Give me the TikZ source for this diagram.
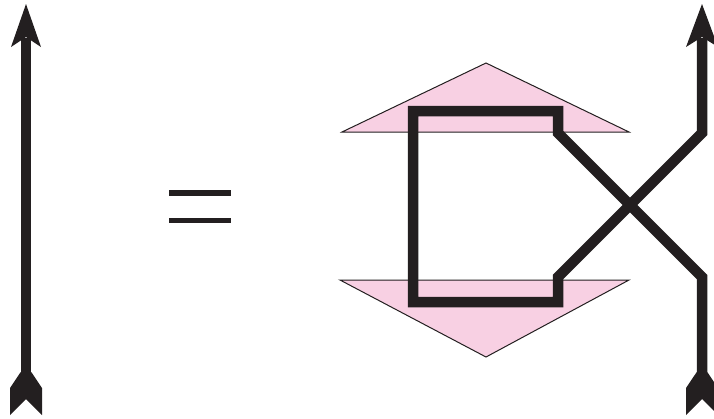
\documentclass[tikz,border=0pt]{standalone}
\definecolor{ink}{HTML}{231F20}
\definecolor{pinkfill}{HTML}{F8D0E3}
\begin{document}
\begin{tikzpicture}[x=1pt,y=-1pt,
  strand/.style={draw=ink,line width=10.5pt,line join=miter,line cap=butt},
  tri/.style={fill=pinkfill,draw=ink,line width=1pt,line join=miter},
  headfill/.style={fill=ink},
  eqbar/.style={draw=ink,line width=5.5pt}]
\useasboundingbox (0,0) rectangle (714,418);
% named points
\coordinate (Ltop) at (26,38);
\coordinate (Lbot) at (26,372);
\coordinate (Rtop) at (702,38);
\coordinate (Rbot) at (702,372);
\coordinate (Rup) at (702,133);
\coordinate (Rdn) at (702,277);
\coordinate (BoxTR) at (558,111);
\coordinate (BoxTL) at (413,111);
\coordinate (BoxBL) at (413,302);
\coordinate (BoxBR) at (558,302);
\coordinate (BoxRU) at (558,133);
\coordinate (BoxRD) at (558,277);
% triangles
\draw[tri] (486,63) -- (629,132) -- (342,132) -- cycle;
\draw[tri] (340,280) -- (629,280) -- (486,357) -- cycle;
% equals sign
\draw[eqbar] (169,193) -- (231,193);
\draw[eqbar] (169,220.5) -- (231,220.5);
% left strand
\draw[strand] (Ltop) -- (Lbot);
\fill[headfill] (26,4) -- (41,47) -- (26,37) -- (11,47) -- cycle;
\fill[headfill] (20.75,372) -- (10,388) -- (10,415) -- (26,399) -- (42,415) -- (42,388) -- (31.25,372) -- cycle;
% right strand (one closed-looking strand with a crossing)
\draw[strand] (Rbot) -- (Rdn) -- (BoxRU) -- (BoxTR) -- (BoxTL) -- (BoxBL) -- (BoxBR) -- (BoxRD) -- (Rup) -- (Rtop);
\fill[headfill] (702,4) -- (718,47) -- (702,37) -- (686,47) -- cycle;
\fill[headfill] (696.75,372) -- (686,388) -- (686,415) -- (702,399) -- (718,415) -- (718,388) -- (707.25,372) -- cycle;
\end{tikzpicture}
\end{document}
